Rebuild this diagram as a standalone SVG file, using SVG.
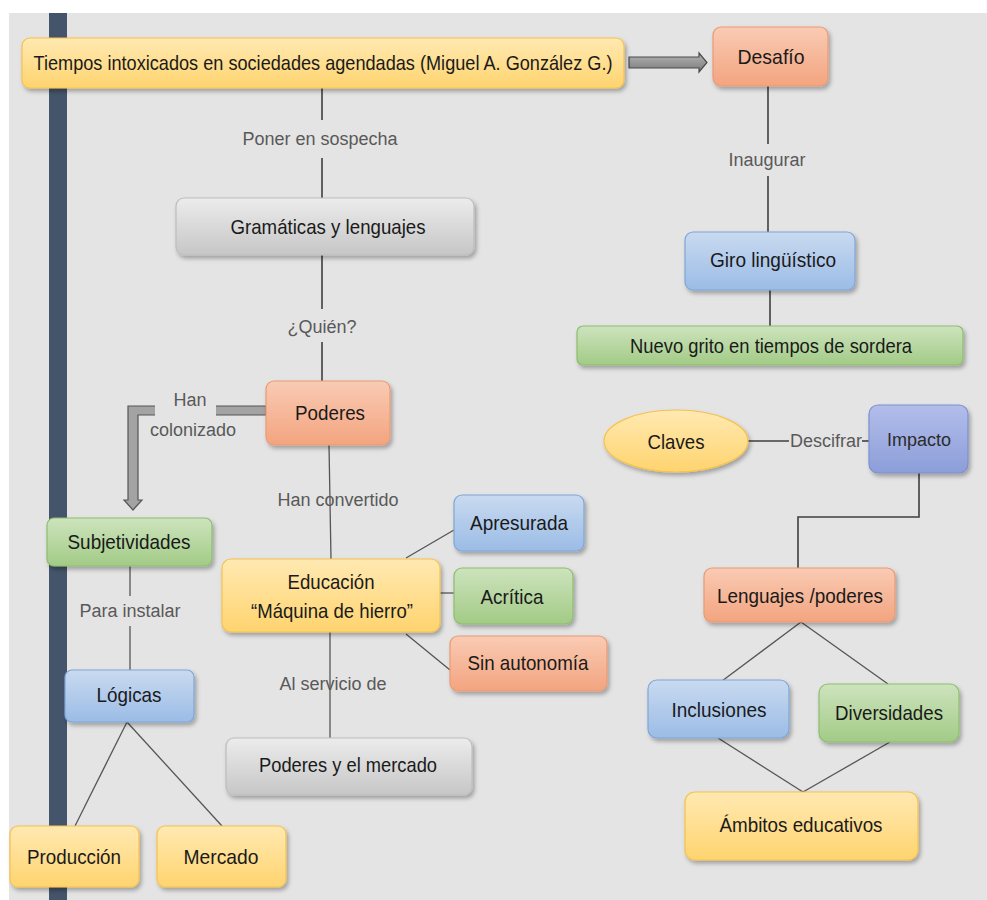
<svg xmlns="http://www.w3.org/2000/svg" width="987" height="900" viewBox="0 0 987 900">
<defs>
<style>
.nt{font-family:"Liberation Sans Narrow","Liberation Sans",Arial,sans-serif;font-size:21px;fill:#1a1a1a;text-anchor:middle}
.lb{font-family:"Liberation Sans",Arial,sans-serif;font-size:18px;fill:#595959;text-anchor:middle}
.ln{stroke:#3f3f3f;stroke-width:1.6;fill:none}
.ld{stroke:#555;stroke-width:1.3;fill:none}
.y{fill:url(#gy);stroke:#f5c24c;stroke-width:1.2}
.s{fill:url(#gs);stroke:#e99a76;stroke-width:1.2}
.b{fill:url(#gb);stroke:#7fa6d6;stroke-width:1.2}
.g{fill:url(#gg);stroke:#8dbd6f;stroke-width:1.2}
.k{fill:url(#gk);stroke:#bdbdbd;stroke-width:1.2}
.p{fill:url(#gp);stroke:#7d8fd0;stroke-width:1.2}
</style>
<linearGradient id="gy" x1="0" y1="0" x2="0" y2="1"><stop offset="0" stop-color="#ffe9b2"/><stop offset="1" stop-color="#ffd46f"/></linearGradient>
<linearGradient id="gs" x1="0" y1="0" x2="0" y2="1"><stop offset="0" stop-color="#f9cbb4"/><stop offset="1" stop-color="#f3a47f"/></linearGradient>
<linearGradient id="gb" x1="0" y1="0" x2="0" y2="1"><stop offset="0" stop-color="#c9daf0"/><stop offset="1" stop-color="#9bbce6"/></linearGradient>
<linearGradient id="gg" x1="0" y1="0" x2="0" y2="1"><stop offset="0" stop-color="#cde3bd"/><stop offset="1" stop-color="#a2cb86"/></linearGradient>
<linearGradient id="gk" x1="0" y1="0" x2="0" y2="1"><stop offset="0" stop-color="#ececec"/><stop offset="1" stop-color="#c6c6c6"/></linearGradient>
<linearGradient id="gp" x1="0" y1="0" x2="0" y2="1"><stop offset="0" stop-color="#b2bdea"/><stop offset="1" stop-color="#8c9ed9"/></linearGradient>
<linearGradient id="ga" x1="0" y1="0" x2="0" y2="1"><stop offset="0" stop-color="#b5b5b5"/><stop offset="1" stop-color="#7a7a7a"/></linearGradient>
<filter id="sh" x="-10%" y="-20%" width="130%" height="150%"><feDropShadow dx="2" dy="3" stdDeviation="2" flood-color="#000" flood-opacity="0.3"/></filter>
</defs>
<rect x="0" y="0" width="987" height="900" fill="#ffffff"/>
<rect x="9" y="13" width="978" height="887" fill="#e4e4e4"/>
<rect x="49" y="13" width="18" height="887" fill="#44546a"/>

<g id="connectors">
<line class="ln" x1="322" y1="88" x2="322" y2="120"/>
<line class="ln" x1="322" y1="158" x2="322" y2="198"/>
<line class="ln" x1="322" y1="255" x2="322" y2="309"/>
<line class="ln" x1="322" y1="342" x2="322" y2="381"/>
<line class="ln" x1="768" y1="86" x2="768" y2="144"/>
<line class="ln" x1="768" y1="176" x2="768" y2="232"/>
<line class="ln" x1="770" y1="290" x2="770" y2="326"/>
<line class="ld" x1="329" y1="445" x2="331" y2="559"/>
<line class="ld" x1="130" y1="566" x2="130" y2="596"/>
<line class="ld" x1="130" y1="626" x2="130" y2="670"/>
<line class="ld" x1="330" y1="632" x2="330" y2="738"/>
<line class="ld" x1="406" y1="558" x2="454" y2="530"/>
<line class="ld" x1="440" y1="593" x2="454" y2="593"/>
<line class="ld" x1="406" y1="634" x2="450" y2="670"/>
<line class="ld" x1="127" y1="722" x2="75" y2="826"/>
<line class="ld" x1="127" y1="722" x2="222" y2="826"/>
<line class="ln" x1="748" y1="441" x2="789" y2="441"/>
<line class="ln" x1="862" y1="441" x2="869" y2="441"/>
<polyline class="ln" points="919,473 919,517 798,517 798,568"/>
<line class="ld" x1="801" y1="622" x2="722" y2="681"/>
<line class="ld" x1="801" y1="622" x2="888" y2="684"/>
<line class="ld" x1="718" y1="738" x2="803" y2="792"/>
<line class="ld" x1="890" y1="742" x2="803" y2="792"/>
<polygon points="629,57 699,57 699,53 707,62.5 699,72 699,68 629,68" fill="url(#ga)" stroke="#4a4a4a" stroke-width="1.2"/>
<polygon points="266,406 128,406 128,500 124,500 133,510 142,500 138,500 138,415 266,415" fill="#a3a3a3" stroke="#555" stroke-width="1.2"/>
<rect x="155" y="398" width="61" height="26" fill="#e4e4e4"/>
</g>

<g id="labels">
<text class="lb" x="320" y="145">Poner en sospecha</text>
<text class="lb" x="322" y="333">¿Quién?</text>
<text class="lb" x="767" y="166">Inaugurar</text>
<text class="lb" x="190" y="406">Han</text>
<text class="lb" x="193" y="436">colonizado</text>
<text class="lb" x="338" y="506">Han convertido</text>
<text class="lb" x="130" y="617">Para instalar</text>
<text class="lb" x="333" y="690">Al servicio de</text>
<text class="lb" x="826" y="447">Descifrar</text>
</g>

<g id="n-titulo"><rect class="y" x="22" y="38" width="602" height="50" rx="8" filter="url(#sh)"/><text class="nt" x="323" y="70" textLength="579" lengthAdjust="spacingAndGlyphs">Tiempos intoxicados en sociedades agendadas (Miguel A. González G.)</text></g>
<g id="n-desafio"><rect class="s" x="713" y="27" width="115" height="59" rx="8" filter="url(#sh)"/><text class="nt" x="771" y="64" textLength="67" lengthAdjust="spacingAndGlyphs">Desafío</text></g>
<g id="n-giro"><rect class="b" x="685" y="232" width="170" height="58" rx="8" filter="url(#sh)"/><text class="nt" x="773" y="267" textLength="126" lengthAdjust="spacingAndGlyphs">Giro lingüístico</text></g>
<g id="n-nuevo"><rect class="g" x="577" y="326" width="386" height="39" rx="6" filter="url(#sh)"/><text class="nt" x="771" y="353" textLength="282" lengthAdjust="spacingAndGlyphs">Nuevo grito en tiempos de sordera</text></g>
<g id="n-gramaticas"><rect class="k" x="176" y="198" width="298" height="57" rx="8" filter="url(#sh)"/><text class="nt" x="328" y="234" textLength="195" lengthAdjust="spacingAndGlyphs">Gramáticas y lenguajes</text></g>
<g id="n-poderes"><rect class="s" x="266" y="381" width="124" height="64" rx="8" filter="url(#sh)"/><text class="nt" x="330" y="420" textLength="70" lengthAdjust="spacingAndGlyphs">Poderes</text></g>
<g id="n-subjetividades"><rect class="g" x="47" y="518" width="165" height="48" rx="7" filter="url(#sh)"/><text class="nt" x="129" y="549" textLength="123" lengthAdjust="spacingAndGlyphs">Subjetividades</text></g>
<g id="n-logicas"><rect class="b" x="65" y="670" width="129" height="52" rx="7" filter="url(#sh)"/><text class="nt" x="129" y="702" textLength="65" lengthAdjust="spacingAndGlyphs">Lógicas</text></g>
<g id="n-produccion"><rect class="y" x="10" y="826" width="129" height="61" rx="8" filter="url(#sh)"/><text class="nt" x="74" y="864" textLength="94" lengthAdjust="spacingAndGlyphs">Producción</text></g>
<g id="n-mercado"><rect class="y" x="157" y="826" width="129" height="61" rx="8" filter="url(#sh)"/><text class="nt" x="221" y="864" textLength="75" lengthAdjust="spacingAndGlyphs">Mercado</text></g>
<g id="n-educacion"><rect class="y" x="222" y="559" width="218" height="73" rx="9" filter="url(#sh)"/><text class="nt" x="331" y="589" textLength="87" lengthAdjust="spacingAndGlyphs">Educación</text><text class="nt" x="332" y="618" textLength="162" lengthAdjust="spacingAndGlyphs">“Máquina de hierro”</text></g>
<g id="n-poderes-mercado"><rect class="k" x="226" y="738" width="246" height="57" rx="8" filter="url(#sh)"/><text class="nt" x="348" y="772" textLength="178" lengthAdjust="spacingAndGlyphs">Poderes y el mercado</text></g>
<g id="n-apresurada"><rect class="b" x="454" y="495" width="130" height="56" rx="8" filter="url(#sh)"/><text class="nt" x="519" y="530" textLength="98" lengthAdjust="spacingAndGlyphs">Apresurada</text></g>
<g id="n-acritica"><rect class="g" x="454" y="568" width="119" height="56" rx="8" filter="url(#sh)"/><text class="nt" x="512" y="604" textLength="63" lengthAdjust="spacingAndGlyphs">Acrítica</text></g>
<g id="n-sin-autonomia"><rect class="s" x="450" y="636" width="157" height="55" rx="8" filter="url(#sh)"/><text class="nt" x="528" y="670" textLength="121" lengthAdjust="spacingAndGlyphs">Sin autonomía</text></g>
<g id="n-claves"><ellipse class="y" cx="676" cy="441" rx="72" ry="31" filter="url(#sh)"/><text class="nt" x="676" y="449" textLength="57" lengthAdjust="spacingAndGlyphs">Claves</text></g>
<g id="n-impacto"><rect class="p" x="869" y="405" width="99" height="68" rx="9" filter="url(#sh)"/><text class="lb" x="919" y="446" style="fill:#2b2b2b">Impacto</text></g>
<g id="n-lenguajes-poderes"><rect class="s" x="704" y="568" width="191" height="54" rx="8" filter="url(#sh)"/><text class="nt" x="800" y="603" textLength="166" lengthAdjust="spacingAndGlyphs">Lenguajes /poderes</text></g>
<g id="n-inclusiones"><rect class="b" x="648" y="680" width="141" height="58" rx="9" filter="url(#sh)"/><text class="nt" x="719" y="717" textLength="95" lengthAdjust="spacingAndGlyphs">Inclusiones</text></g>
<g id="n-diversidades"><rect class="g" x="819" y="684" width="140" height="58" rx="9" filter="url(#sh)"/><text class="nt" x="889" y="720" textLength="108" lengthAdjust="spacingAndGlyphs">Diversidades</text></g>
<g id="n-ambitos"><rect class="y" x="685" y="792" width="233" height="68" rx="10" filter="url(#sh)"/><text class="nt" x="801" y="832" textLength="163" lengthAdjust="spacingAndGlyphs">Ámbitos educativos</text></g>
</svg>
